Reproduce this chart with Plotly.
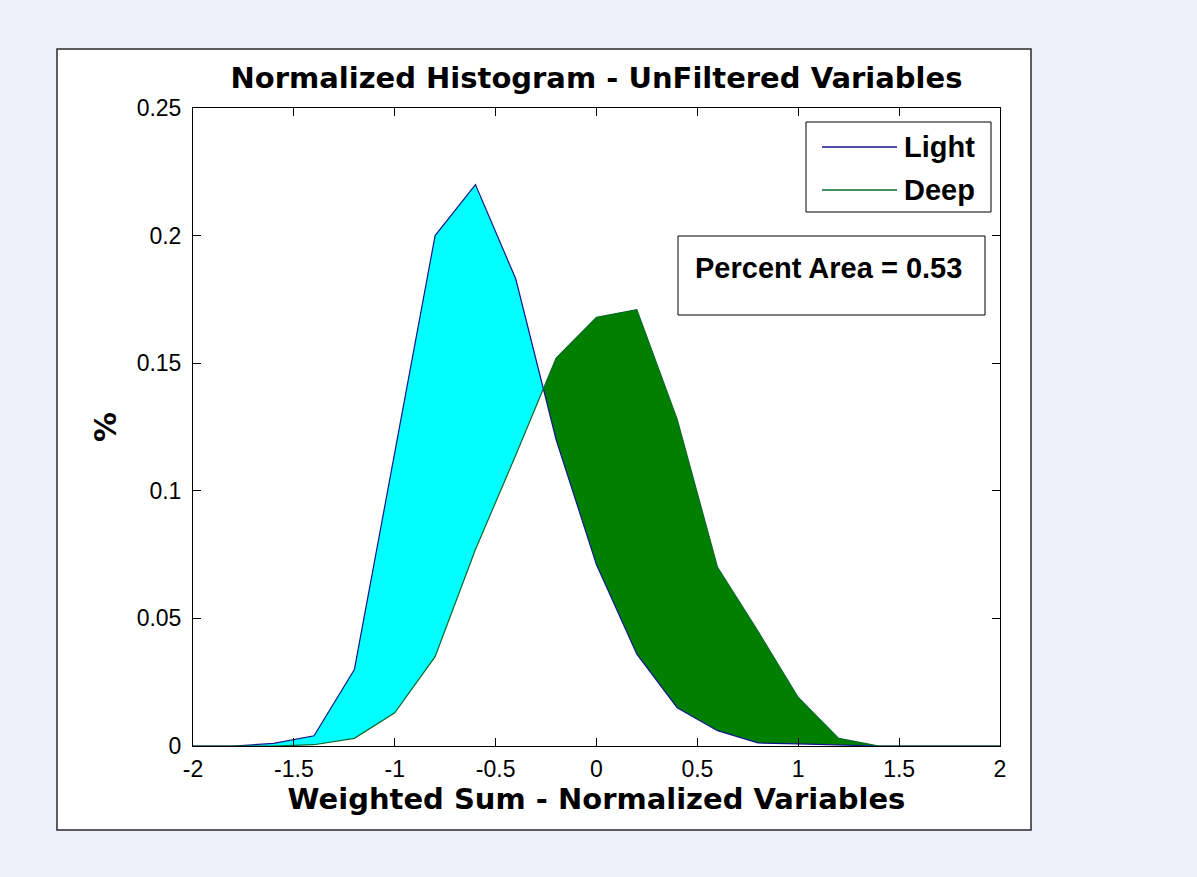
import numpy as np
import plotly.graph_objects as go

# ---- data ----
x_bins = [-2.0, -1.8, -1.6, -1.4, -1.2, -1.0, -0.8, -0.6, -0.4, -0.2, 0.0,
          0.2, 0.4, 0.6, 0.8, 1.0, 1.2, 1.4, 1.6, 1.8, 2.0]
light = [0.0, 0.0, 0.001, 0.004, 0.030, 0.115, 0.200, 0.220, 0.183, 0.120, 0.071,
         0.036, 0.015, 0.006, 0.0012, 0.0008, 0.0005, 0.0, 0.0, 0.0, 0.0]
deep = [0.0, 0.0, 0.0, 0.0005, 0.003, 0.013, 0.035, 0.077, 0.114, 0.152, 0.168,
        0.171, 0.128, 0.070, 0.045, 0.019, 0.003, 0.0, 0.0, 0.0, 0.0]
series_names = ["Light", "Deep"]
x_ticks = [-2, -1.5, -1, -0.5, 0, 0.5, 1, 1.5, 2]
x_ticktext = ["-2", "-1.5", "-1", "-0.5", "0", "0.5", "1", "1.5", "2"]
y_ticks = [0, 0.05, 0.1, 0.15, 0.2, 0.25]
y_ticktext = ["0", "0.05", "0.1", "0.15", "0.2", "0.25"]
percent_area = 0.53

# ---- geometry helper: lower envelope with exact crossing points ----
xa = np.array(x_bins, dtype=float)
la = np.array(light, dtype=float)
da = np.array(deep, dtype=float)
xs = list(xa)
diff = la - da
for i in range(len(xa) - 1):
    if diff[i] * diff[i + 1] < 0:
        t = diff[i] / (diff[i] - diff[i + 1])
        xs.append(xa[i] + t * (xa[i + 1] - xa[i]))
xs = np.array(sorted(xs))
env = np.minimum(np.interp(xs, xa, la), np.interp(xs, xa, da))

ARIAL = "Liberation Sans, Arial, Helvetica, sans-serif"
WIDE_BOLD = "DejaVu Sans, Verdana, sans-serif"
LIGHT_LINE = "#14148C"
DEEP_LINE = "#08682A"

fig = go.Figure()
fig.add_trace(go.Scatter(x=x_bins, y=deep, mode="lines", fill="tozeroy",
                         fillcolor="#007F00", line=dict(width=0),
                         showlegend=False, hoverinfo="skip"))
fig.add_trace(go.Scatter(x=x_bins, y=light, mode="lines", fill="tozeroy",
                         fillcolor="#00FFFF", line=dict(width=0),
                         showlegend=False, hoverinfo="skip"))
fig.add_trace(go.Scatter(x=xs, y=env, mode="lines", fill="tozeroy",
                         fillcolor="#FFFFFF", line=dict(width=0),
                         showlegend=False, hoverinfo="skip"))
fig.add_trace(go.Scatter(x=x_bins, y=light, mode="lines", name=series_names[0],
                         line=dict(color=LIGHT_LINE, width=1.2), showlegend=False))
fig.add_trace(go.Scatter(x=x_bins, y=deep, mode="lines", name=series_names[1],
                         line=dict(color=DEEP_LINE, width=1.2), showlegend=False))

W, H = 1197, 877
L, R, T, B = 193, 1000, 108, 746
pw, ph = R - L, B - T


def px(xp):
    return (xp - L) / pw


def py(yp):
    return (B - yp) / ph


# white figure panel
fig.add_shape(type="rect", xref="paper", yref="paper",
              x0=px(57), x1=px(1031), y0=py(830), y1=py(49),
              fillcolor="white", line=dict(color="#2a2a2a", width=1.5),
              layer="below")

# legend box (MATLAB style)
fig.add_shape(type="rect", xref="paper", yref="paper",
              x0=px(806), x1=px(991), y0=py(212), y1=py(122),
              fillcolor="white", line=dict(color="black", width=1), layer="above")
for name, color, yc in [(series_names[0], LIGHT_LINE, 147),
                        (series_names[1], DEEP_LINE, 190)]:
    fig.add_shape(type="line", xref="paper", yref="paper",
                  x0=px(822), x1=px(897), y0=py(yc), y1=py(yc),
                  line=dict(color=color, width=1.3), layer="above")
    fig.add_annotation(xref="paper", yref="paper", x=px(902), y=py(yc),
                       xanchor="left", yanchor="middle", text=f"<b>{name}</b>",
                       showarrow=False,
                       font=dict(family=ARIAL, size=29, color="black"))

# percent area box
fig.add_shape(type="rect", xref="paper", yref="paper",
              x0=px(678), x1=px(985), y0=py(315), y1=py(236),
              fillcolor="white", line=dict(color="black", width=1), layer="above")
fig.add_annotation(xref="paper", yref="paper", x=px(693), y=py(268),
                   xanchor="left", yanchor="middle",
                   text=f"<b>Percent Area = {percent_area:.2f}</b>",
                   showarrow=False,
                   font=dict(family=ARIAL, size=29, color="black"))

fig.update_layout(
    width=W, height=H,
    margin=dict(l=L, r=W - R, t=T, b=H - B, pad=0),
    paper_bgcolor="#ECF1FA",
    plot_bgcolor="white",
    showlegend=False,
    title=dict(text="<b>Normalized Histogram - UnFiltered Variables</b>",
               x=0.5, xref="paper", xanchor="center",
               y=1 - 78 / H, yref="container", yanchor="middle",
               font=dict(family=WIDE_BOLD, size=29, color="black")),
    font=dict(family=ARIAL, size=23, color="black"),
    xaxis=dict(range=[-2, 2], tickvals=x_ticks, ticktext=x_ticktext,
               ticks="inside", ticklen=8, tickcolor="black", tickwidth=1,
               showline=True, linecolor="black", linewidth=1, mirror="ticks",
               showgrid=False, zeroline=False, ticklabelstandoff=2,
               tickfont=dict(family=ARIAL, size=23, color="black"),
               title=dict(text="<b>Weighted Sum - Normalized Variables</b>",
                          standoff=8,
                          font=dict(family=WIDE_BOLD, size=29, color="black"))),
    yaxis=dict(range=[0, 0.25], tickvals=y_ticks, ticktext=y_ticktext,
               ticks="inside", ticklen=8, tickcolor="black", tickwidth=1,
               showline=True, linecolor="black", linewidth=1, mirror="ticks",
               showgrid=False, zeroline=False, ticklabelstandoff=6,
               tickfont=dict(family=ARIAL, size=23, color="black"),
               title=dict(text="<b>%</b>", standoff=11,
                          font=dict(family=WIDE_BOLD, size=30, color="black"))),
)

fig.write_html("out.html", config={"displayModeBar": False},
               post_script="document.body.style.margin='0';"
                           "document.body.style.background='#ECF1FA';")
